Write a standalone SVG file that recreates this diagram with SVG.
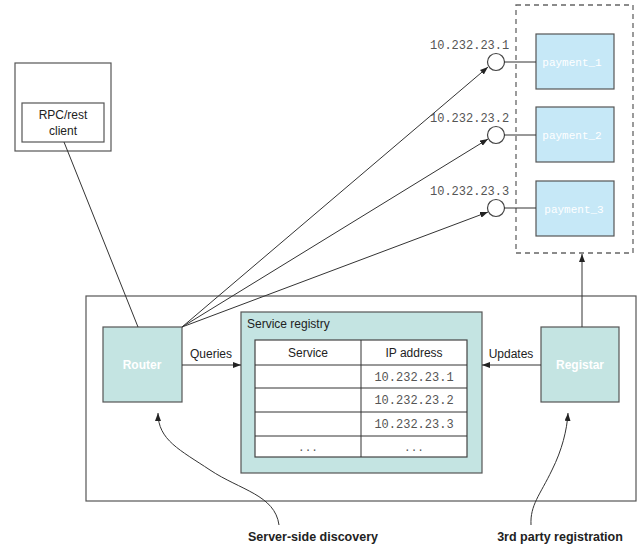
<svg xmlns="http://www.w3.org/2000/svg" width="644" height="550" viewBox="0 0 644 550">
<style>
.box{fill:none;stroke:#555;stroke-width:1.2}
.teal{fill:#c4e4e2;stroke:#555;stroke-width:1.2}
.blue{fill:#c6e8f7;stroke:#555;stroke-width:1.2}
.line{fill:none;stroke:#333;stroke-width:1}
.sans{font-family:"Liberation Sans",Arial,sans-serif;fill:#222;font-size:12px}
.mono{font-family:"Liberation Mono","Courier New",monospace;fill:#555}
.wb{font-family:"Liberation Sans",Arial,sans-serif;font-weight:bold;fill:#fff;font-size:12px}
.wm{font-family:"Liberation Mono","Courier New",monospace;fill:#fff;font-size:11px}
.cap{font-family:"Liberation Sans",Arial,sans-serif;font-weight:bold;font-size:12.5px;fill:#222}
</style>
<defs>
<marker id="ah" markerWidth="8" markerHeight="6" refX="8" refY="3" orient="auto" markerUnits="userSpaceOnUse">
<path d="M0,0 L8,3 L0,6 z" fill="#222"/>
</marker>
</defs>
<rect width="644" height="550" fill="#fff"/>

<g id="outer-box"><rect class="box" x="86" y="296" width="550" height="205"/></g>

<g id="client">
<rect class="box" x="15" y="63" width="96" height="88"/>
<rect class="box" x="22" y="103" width="82" height="39" fill="#fff"/>
<text class="sans" x="63" y="119" text-anchor="middle">RPC/rest</text>
<text class="sans" x="63" y="135" text-anchor="middle">client</text>
</g>

<g id="payments">
<rect x="516" y="5" width="117" height="248" fill="none" stroke="#666" stroke-width="1.3" stroke-dasharray="5,4"/>
<g id="payment_1">
<rect class="blue" x="536" y="34" width="78" height="55"/>
<text class="wm" x="572" y="66" text-anchor="middle">payment_1</text>
</g>
<g id="payment_2">
<rect class="blue" x="536" y="107" width="78" height="55"/>
<text class="wm" x="572" y="139" text-anchor="middle">payment_2</text>
</g>
<g id="payment_3">
<rect class="blue" x="536" y="181" width="78" height="55"/>
<text class="wm" x="574" y="213" text-anchor="middle">payment_3</text>
</g>
</g>

<g id="endpoints">
<circle cx="496" cy="62" r="8.5" fill="#fff" stroke="#444" stroke-width="1.2"/>
<circle cx="496" cy="135" r="8.5" fill="#fff" stroke="#444" stroke-width="1.2"/>
<circle cx="496" cy="208" r="8.5" fill="#fff" stroke="#444" stroke-width="1.2"/>
<text class="mono" font-size="12" x="430" y="49">10.232.23.1</text>
<text class="mono" font-size="12" x="430" y="122">10.232.23.2</text>
<text class="mono" font-size="12" x="430" y="195">10.232.23.3</text>
</g>

<g id="router">
<rect class="teal" x="103" y="327" width="79" height="75"/>
<text class="wb" x="142" y="369" text-anchor="middle">Router</text>
</g>

<g id="registar">
<rect class="teal" x="541" y="327" width="78" height="75"/>
<text class="wb" x="580" y="369" text-anchor="middle">Registar</text>
</g>

<g id="service-registry">
<rect class="teal" x="241" y="312" width="241" height="161"/>
<text class="sans" x="247" y="328">Service registry</text>
<rect x="255" y="340" width="212" height="117" fill="#fff" stroke="#444" stroke-width="1.2"/>
<line class="line" x1="361" y1="340" x2="361" y2="457"/>
<line class="line" x1="255" y1="365" x2="467" y2="365"/>
<line class="line" x1="255" y1="388" x2="467" y2="388"/>
<line class="line" x1="255" y1="412" x2="467" y2="412"/>
<line class="line" x1="255" y1="436" x2="467" y2="436"/>
<text class="sans" x="308" y="357" text-anchor="middle">Service</text>
<text class="sans" x="414" y="357" text-anchor="middle">IP address</text>
<text class="mono" font-size="12" x="414" y="381" text-anchor="middle">10.232.23.1</text>
<text class="mono" font-size="12" x="414" y="404" text-anchor="middle">10.232.23.2</text>
<text class="mono" font-size="12" x="414" y="428" text-anchor="middle">10.232.23.3</text>
<text class="mono" font-size="11" x="308" y="451" text-anchor="middle">...</text>
<text class="mono" font-size="11" x="414" y="451" text-anchor="middle">...</text>
</g>

<g id="connectors">
<line class="line" x1="64" y1="142" x2="138" y2="327"/>
<line class="line" x1="182" y1="327" x2="488" y2="67" marker-end="url(#ah)"/>
<line class="line" x1="182" y1="327" x2="488" y2="139" marker-end="url(#ah)"/>
<line class="line" x1="182" y1="327" x2="488" y2="212" marker-end="url(#ah)"/>
<line class="line" x1="504" y1="62" x2="536" y2="62"/>
<line class="line" x1="504" y1="135" x2="536" y2="135"/>
<line class="line" x1="504" y1="208" x2="536" y2="208"/>
<line class="line" x1="182" y1="365" x2="241" y2="365" marker-end="url(#ah)"/>
<text class="sans" x="211" y="358" text-anchor="middle">Queries</text>
<line class="line" x1="541" y1="365" x2="482" y2="365" marker-end="url(#ah)"/>
<text class="sans" x="511" y="358" text-anchor="middle">Updates</text>
<line class="line" x1="582" y1="327" x2="582" y2="254" marker-end="url(#ah)"/>
<path class="line" d="M279,525 C275,495 240,490 210,470 C180,450 158,440 158,413" marker-end="url(#ah)"/>
<path class="line" d="M531,525 C530,505 540,495 552,470 C562,450 567,430 568,413" marker-end="url(#ah)"/>
</g>

<g id="captions">
<text class="cap" x="313" y="541" text-anchor="middle">Server-side discovery</text>
<text class="cap" x="560" y="541" text-anchor="middle">3rd party registration</text>
</g>
</svg>
